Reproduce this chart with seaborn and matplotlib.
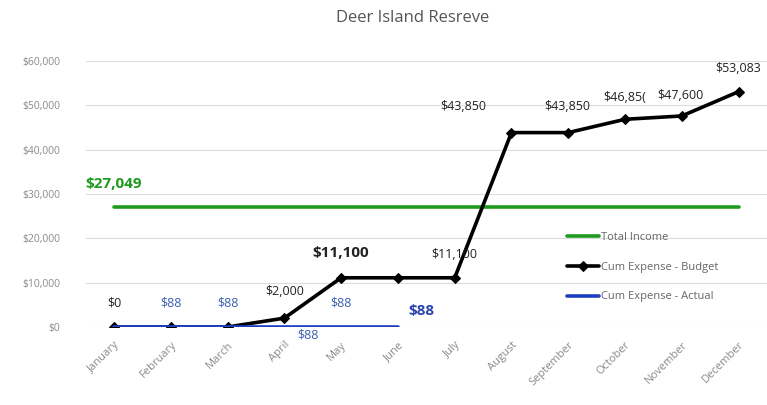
import matplotlib
matplotlib.use("Agg")
import matplotlib.pyplot as plt
import seaborn as sns
import pandas as pd

months = ["January", "February", "March", "April", "May", "June", "July",
          "August", "September", "October", "November", "December"]
income = [27049] * 12
budget = [0, 0, 0, 2000, 11100, 11100, 11100, 43850, 43850, 46850, 47600, 53083]
actual = [88, 88, 88, 88, 88, 88]
yticks = [0, 10000, 20000, 30000, 40000, 50000, 60000]

sns.set_theme(style="white")
plt.rcParams["font.family"] = ["Open Sans", "DejaVu Sans"]

fig = plt.figure(figsize=(7.67, 4.05), dpi=100)
ax = fig.add_axes([0.1116, 0.1926, 0.8884, 0.6568])

x_all = list(range(len(months)))
df_inc = pd.DataFrame({"x": x_all, "y": income})
df_bud = pd.DataFrame({"x": x_all, "y": budget})
df_act = pd.DataFrame({"x": x_all[:len(actual)], "y": actual})

sns.lineplot(data=df_inc, x="x", y="y", ax=ax, color="#1e9a1e", lw=2.6,
             label="Total Income")
sns.lineplot(data=df_bud, x="x", y="y", ax=ax, color="black", lw=2.6,
             marker="D", markersize=5.5, markeredgecolor="black",
             label="Cum Expense - Budget")
sns.lineplot(data=df_act, x="x", y="y", ax=ax, color="#1f3fbf", lw=2.6,
             label="Cum Expense - Actual")

ax.set_xlim(-0.5, 11.5)
ax.set_ylim(0, 60000)
ax.set_yticks(yticks)
ax.set_yticklabels([f"${v:,.0f}" for v in yticks], color="#8a8a8a", fontsize=7.5)
ax.set_xticks(x_all)
ax.set_xticklabels(months, rotation=45, ha="right", rotation_mode="anchor",
                   color="#8a8a8a", fontsize=8)
ax.tick_params(axis="x", pad=9, length=0)
ax.tick_params(axis="y", pad=18, length=0)
ax.set_xlabel("")
ax.set_ylabel("")
ax.grid(axis="y", color="#dcdcdc", lw=0.8)
ax.set_axisbelow(True)
for s in ax.spines.values():
    s.set_visible(False)

# data labels
bc = "#222222"
blc = "#3a5fb0"
def lab(i, v, text, dx, dy, color, size=9, weight="normal"):
    ax.annotate(text, (i, v), xytext=(dx, dy), textcoords="offset points",
                ha="center", va="center", color=color, fontsize=size,
                fontweight=weight, annotation_clip=False)

lab(0, budget[0], "$0", 0, 17, bc)
lab(1, actual[1], "$88", 0, 17, blc)
lab(2, actual[2], "$88", 0, 17, blc)
lab(3, budget[3], "$2,000", 0, 19, bc)
lab(3, actual[3], "$88", 17, -6, blc)
lab(4, budget[4], "$11,100", 0, 18, bc, size=11, weight="bold")
lab(4, actual[4], "$88", 0, 17, blc)
lab(5, actual[5], "$88", 17, 11, "#2a44b0", size=11, weight="bold")
lab(6, budget[6], "$11,100", 0, 16.5, bc)
lab(7, budget[7], "$43,850", -35, 19, bc)
lab(8, budget[8], "$43,850", -1, 19, bc)
lab(9, budget[9], "$46,85(", 0, 16, bc)
lab(10, budget[10], "$47,600", -1, 15, bc)
lab(11, budget[11], "$53,083", 0, 17, bc)
lab(0, income[0], "$27,049", 0, 16.5, "#1e9a1e", size=11, weight="bold")

leg = ax.legend(loc="upper left", bbox_to_anchor=(0.70, 0.375), frameon=False,
                fontsize=8, handlelength=2.9, labelspacing=1.7,
                handletextpad=0.2, borderaxespad=0)
for t in leg.get_texts():
    t.set_color("#666666")

fig.text(0.538, 0.955, "Deer Island Resreve", ha="center", va="center",
         fontsize=12, color="#555555")

fig.savefig("out.png", dpi=100)
